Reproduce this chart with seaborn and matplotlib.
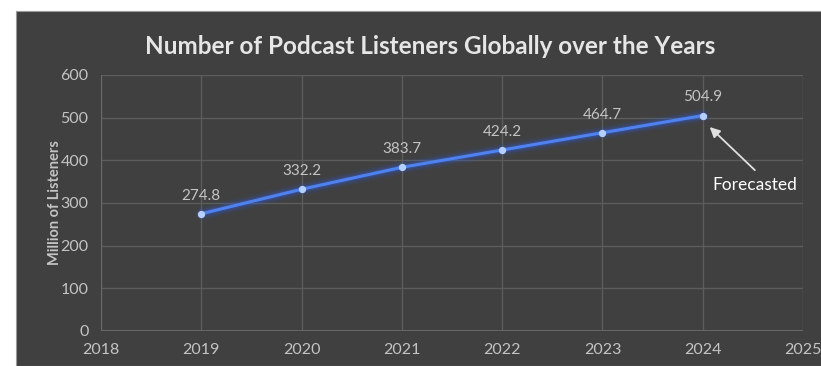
import matplotlib
matplotlib.use("Agg")
import matplotlib.pyplot as plt
import seaborn as sns
import pandas as pd
from matplotlib.patches import Rectangle

years = [2019, 2020, 2021, 2022, 2023, 2024]
listeners = [274.8, 332.2, 383.7, 424.2, 464.7, 504.9]
x_ticks = [2018, 2019, 2020, 2021, 2022, 2023, 2024, 2025]
y_ticks = [0, 100, 200, 300, 400, 500, 600]
title = "Number of Podcast Listeners Globally over the Years"
ylabel = "Million of Listeners"
note = "Forecasted"

df = pd.DataFrame({"year": years, "listeners": listeners})

sns.set_theme(style="dark")
plt.rcParams['font.family'] = ['Lato', 'DejaVu Sans']

BG = "#404040"
TXT = "#c4c4c4"
GRID = "#5c5c5c"

fig = plt.figure(figsize=(8.21, 3.66), dpi=100)
fig.patch.set_facecolor("white")
bgrect = Rectangle((16/821, 0), 1, 1 - 11/366, transform=fig.transFigure,
                   facecolor=BG, edgecolor="#9a9a9a", linewidth=0.8, zorder=-10)
fig.add_artist(bgrect)

ax = fig.add_axes([101/821, 1 - 331/366, 702/821, 256/366])
ax.set_zorder(5)
ax.set_facecolor(BG)

# glow layers
for lw, a in [(10, 0.05), (8, 0.08), (6, 0.14), (4, 0.25)]:
    sns.lineplot(data=df, x="year", y="listeners", ax=ax, color="#2f5fe0",
                 linewidth=lw, alpha=a, legend=False)
sns.lineplot(data=df, x="year", y="listeners", ax=ax, color="#4f82ee",
             linewidth=2.2, marker="o", markersize=4.5, markerfacecolor="#b5d0ff",
             markeredgecolor="#b5d0ff", legend=False)

for x, y in zip(years, listeners):
    ax.annotate(f"{y:.1f}", (x, y), xytext=(0, 8), textcoords="offset points",
                ha="center", va="bottom", color=TXT, fontsize=11)

ax.annotate("", xy=(2024.07, 478), xytext=(2024.52, 377),
            arrowprops=dict(arrowstyle="-|>", color="#e0e0e0", lw=1.3,
                            shrinkA=0, shrinkB=0, mutation_scale=15))
ax.text(2024.52, 343, note, color="white", fontsize=12.5, ha="center", va="center")

ax.set_xlim(2018, 2025)
ax.set_ylim(0, 600)
ax.set_xticks(x_ticks)
ax.set_yticks(y_ticks)
ax.set_xticklabels([str(t) for t in x_ticks])
ax.tick_params(axis="both", colors=TXT, labelsize=11.5, length=0)
ax.tick_params(axis="x", pad=9)
ax.tick_params(axis="y", pad=9)
ax.grid(True, color=GRID, linewidth=1)
for s in ax.spines.values():
    s.set_visible(False)
ax.axhline(0, color="#6e6e6e", lw=1.2)
ax.axvline(2018, color="#6e6e6e", lw=1.2)
ax.set_xlabel("")
ax.set_ylabel(ylabel, color=TXT, fontsize=10.5, fontweight="bold", labelpad=-1)

fig.text(430/821, 1 - 46/366, title, ha="center", va="center", color="#e6e6e6",
         fontsize=17.5, fontweight="bold")

fig.savefig("out.png", dpi=100, facecolor=fig.get_facecolor())
